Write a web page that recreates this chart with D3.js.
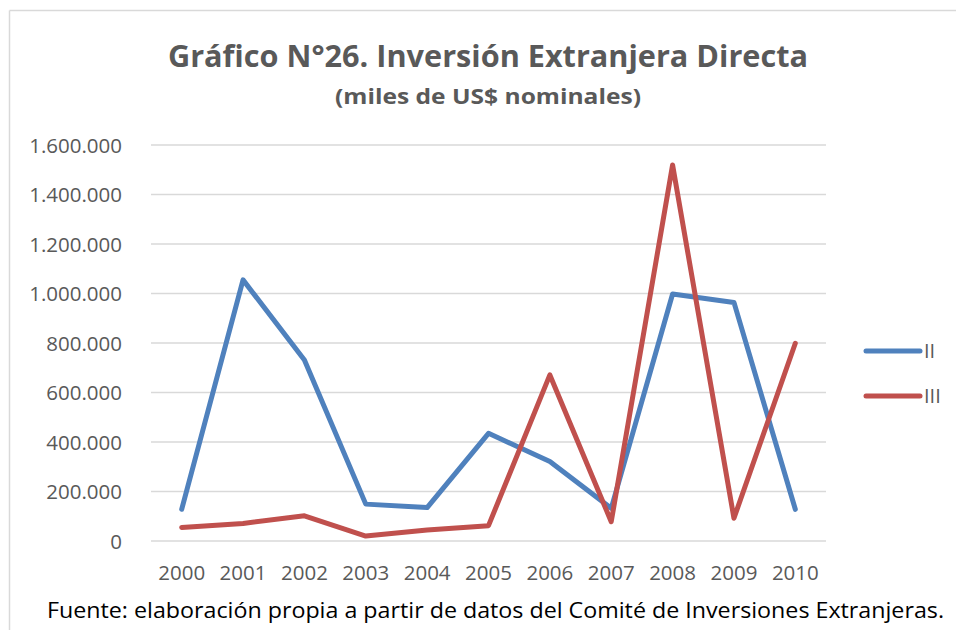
<!DOCTYPE html>
<html>
<head>
<meta charset="utf-8">
<script src="https://cdn.jsdelivr.net/npm/d3@7"></script>
<style>
  body { margin: 0; background: #fff; }
  text { font-family: "Open Sans", "Noto Sans", sans-serif; }
</style>
</head>
<body>
<div id="graph"></div>
<script>
var years = ["2000","2001","2002","2003","2004","2005","2006","2007","2008","2009","2010"];
var serie_II  = [128000, 1055000, 731000, 149000, 135000, 435000, 321000, 132000, 998000, 964000, 128000];
var serie_III = [55000, 71000, 102000, 20000, 44000, 62000, 671000, 78000, 1519000, 92000, 799000];
var y_ticks = [0, 200000, 400000, 600000, 800000, 1000000, 1200000, 1400000, 1600000];
var series_names = ["II", "III"];

var width = 956, height = 630;
var svg = d3.select("#graph").append("svg")
  .attr("width", width)
  .attr("height", height);

// chart frame (only top and left edges visible)
svg.append("line").attr("x1", 9.5).attr("y1", 10.5).attr("x2", 956).attr("y2", 10.5)
  .attr("stroke", "#d9d9d9").attr("stroke-width", 1.5);
svg.append("line").attr("x1", 9.5).attr("y1", 10.5).attr("x2", 9.5).attr("y2", 630)
  .attr("stroke", "#d9d9d9").attr("stroke-width", 1.5);

var p_left = 151, p_right = 826, p_top = 145, p_bottom = 541;

var xscale = d3.scaleBand().domain(years).range([p_left, p_right]);
var yscale = d3.scaleLinear().domain([0, 1600000]).range([p_bottom, p_top]);

var fmt = function(d){ return d3.format(",")(d).replace(/,/g, "."); };

// gridlines
svg.append("g").selectAll("line")
  .data(y_ticks)
  .enter().append("line")
  .attr("x1", p_left).attr("x2", p_right)
  .attr("y1", function(d){ return yscale(d); })
  .attr("y2", function(d){ return yscale(d); })
  .attr("stroke", "#d9d9d9")
  .attr("stroke-width", 1.5);

// y axis labels
var y_axis = d3.axisLeft(yscale).tickValues(y_ticks).tickFormat(fmt).tickSize(0).tickPadding(29);
var ya = svg.append("g").attr("transform", "translate(" + p_left + ",0)").call(y_axis);
ya.select(".domain").remove();
ya.selectAll("text")
  .attr("fill", "#595959")
  .style("font-size", "20.5px")
  .attr("dy", "0.36em");

// x axis labels
var x_axis = d3.axisBottom(xscale).tickSize(0).tickPadding(24);
var xa = svg.append("g").attr("transform", "translate(0," + p_bottom + ")").call(x_axis);
xa.select(".domain").remove();
xa.selectAll("text")
  .attr("fill", "#595959")
  .style("font-size", "20.5px");

var line = d3.line()
  .x(function(d, i){ return xscale(years[i]) + xscale.bandwidth() / 2; })
  .y(function(d){ return yscale(d); });

var colors = ["#4f81bd", "#c0504d"];
[serie_II, serie_III].forEach(function(s, k){
  svg.append("path")
    .datum(s)
    .attr("d", line)
    .attr("fill", "none")
    .attr("stroke", colors[k])
    .attr("stroke-width", 5)
    .attr("stroke-linejoin", "round")
    .attr("stroke-linecap", "round");
});

// legend
series_names.forEach(function(name, k){
  var ly = 351 + k * 45;
  svg.append("line")
    .attr("x1", 866).attr("x2", 920)
    .attr("y1", ly).attr("y2", ly)
    .attr("stroke", colors[k])
    .attr("stroke-width", 5)
    .attr("stroke-linecap", "round");
  svg.append("text")
    .attr("x", 924).attr("y", ly)
    .attr("dy", "0.36em")
    .attr("fill", "#595959")
    .style("font-size", "20px")
    .text(name);
});

// titles
svg.append("text")
  .attr("x", 488).attr("y", 67)
  .attr("text-anchor", "middle")
  .attr("fill", "#595959")
  .style("font-size", "30px")
  .style("font-weight", "bold")
  .attr("textLength", 640)
  .attr("lengthAdjust", "spacingAndGlyphs")
  .text("Gráfico N°26. Inversión Extranjera Directa");

svg.append("text")
  .attr("x", 488).attr("y", 104)
  .attr("text-anchor", "middle")
  .attr("fill", "#595959")
  .style("font-size", "22px")
  .style("font-weight", "bold")
  .attr("textLength", 306)
  .attr("lengthAdjust", "spacingAndGlyphs")
  .text("(miles de US$ nominales)");

// source
svg.append("text")
  .attr("x", 47).attr("y", 618)
  .attr("fill", "#000")
  .style("font-size", "21.5px")
  .attr("textLength", 897)
  .attr("lengthAdjust", "spacingAndGlyphs")
  .text("Fuente: elaboración propia a partir de datos del Comité de Inversiones Extranjeras.");
</script>
</body>
</html>
